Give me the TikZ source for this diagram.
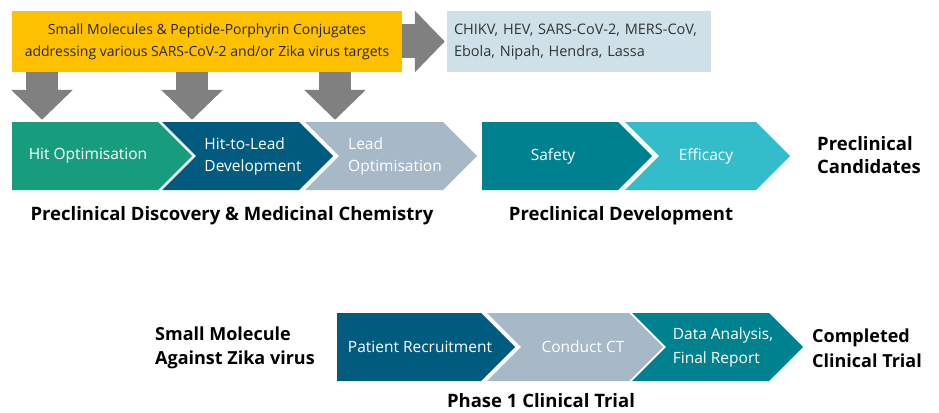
\documentclass[tikz,border=0pt]{standalone}
\usepackage{fontspec}
\setmainfont{Open Sans}
\usetikzlibrary{arrows.meta,positioning}

\definecolor{srcyellow}{HTML}{FFC000}
\definecolor{tgtblue}{HTML}{CFE1E8}
\definecolor{arrgray}{HTML}{808080}
\definecolor{hitgreen}{HTML}{179C7D}
\definecolor{leadblue}{HTML}{005B7F}
\definecolor{optgray}{HTML}{A7B9C7}
\definecolor{safeteal}{HTML}{00818F}
\definecolor{efflight}{HTML}{33BDCB}

% left, tip, top, bottom, colour, notch depth
\newcommand{\chevron}[6]{%
  \fill[#5] (#1,#3) -- ({#2-34},#3) -- (#2,{(#3+#4)/2}) -- ({#2-34},#4)
    -- (#1,#4) -- ({#1+#6},{(#3+#4)/2}) -- cycle;
}

\tikzset{
  steptext/.style={text=white, minimum height=68pt, inner sep=0pt, align=left,
    font=\fontsize{15.5}{22}\selectfont},
  caption/.style={font=\bfseries\fontsize{18.5}{22}\selectfont, inner sep=0pt},
  endlabel/.style={font=\bfseries\fontsize{18.5}{23}\selectfont, align=left,
    anchor=west, inner sep=0pt},
  blockarrow/.style={draw=arrgray, line width=32pt,
    -{Triangle[width=60pt,length=30pt]}, shorten >=2pt},
}

\begin{document}
\begin{tikzpicture}[x=1pt,y=-1pt]
    \useasboundingbox (0,0) rectangle (939,412);

    % compounds and further targets
    \node[fill=srcyellow, minimum width=390pt, minimum height=61pt, inner sep=0pt,
      align=center, text=black!85, font=\fontsize{14}{22}\selectfont] (src) at (207,41.5)
      {Small Molecules \& Peptide-Porphyrin Conjugates\\addressing various SARS-CoV-2 and/or Zika virus targets};
    \node[fill=tgtblue, minimum width=264pt, minimum height=61pt, inner sep=0pt,
      text width=250pt, align=left, text=black!80, font=\fontsize{14.5}{22}\selectfont] (targets) at (579,41.5)
      {CHIKV, HEV, SARS-CoV-2, MERS-CoV,\\Ebola, Nipah, Hendra, Lassa};

    % preclinical row
    \chevron{12}{192}{122}{190}{hitgreen}{0}
    \chevron{162}{333}{122}{190}{leadblue}{34}
    \chevron{305}{477}{122}{190}{optgray}{34}
    \chevron{482}{652}{122}{190}{safeteal}{0}
    \chevron{625}{790}{122}{190}{efflight}{34}

    \node[steptext] (hit) at (88,156) {Hit Optimisation};
    \node[steptext] (h2l) at (253,156) {Hit-to-Lead\\Development};
    \node[steptext] (lead) at (395,156) {Lead\\Optimisation};
    \node[steptext] (safety) at (553,156) {Safety};
    \node[steptext] (efficacy) at (706,156) {Efficacy};

    \coordinate (d1) at (42,0);
    \coordinate (d2) at (192,0);
    \coordinate (d3) at (335,0);
    \foreach \d/\t in {d1/hit, d2/h2l, d3/lead}
      \draw[blockarrow] (src.south -| \d) -- (\t.north -| \d);
    \draw[blockarrow, line width=34pt] (src.east) -- (targets.west);

    \node[caption] (disc) at (232,216) {Preclinical Discovery \& Medicinal Chemistry};
    \node[caption] (dev) at (621,216) {Preclinical Development};
    \node[endlabel] (cand) at (817,155) {Preclinical\\Candidates};

    % clinical row
    \chevron{337}{515}{313}{381}{leadblue}{0}
    \chevron{487}{663}{313}{381}{optgray}{34}
    \chevron{632}{803}{313}{381}{safeteal}{34}

    \node[steptext] (patient) at (420,347) {Patient Recruitment};
    \node[steptext] (conduct) at (583,347) {Conduct CT};
    \node[steptext, font=\fontsize{15.5}{24}\selectfont] (data) at (723,347) {Data Analysis,\\Final Report};

    \node[endlabel, font=\bfseries\fontsize{18}{24}\selectfont] (zika) at (155,348) {Small Molecule\\Against Zika virus};
    \node[endlabel, font=\bfseries\fontsize{18}{25}\selectfont] (done) at (812,348) {Completed\\Clinical Trial};
    \node[caption] (phase) at (541,401) {Phase 1 Clinical Trial};
\end{tikzpicture}
\end{document}
